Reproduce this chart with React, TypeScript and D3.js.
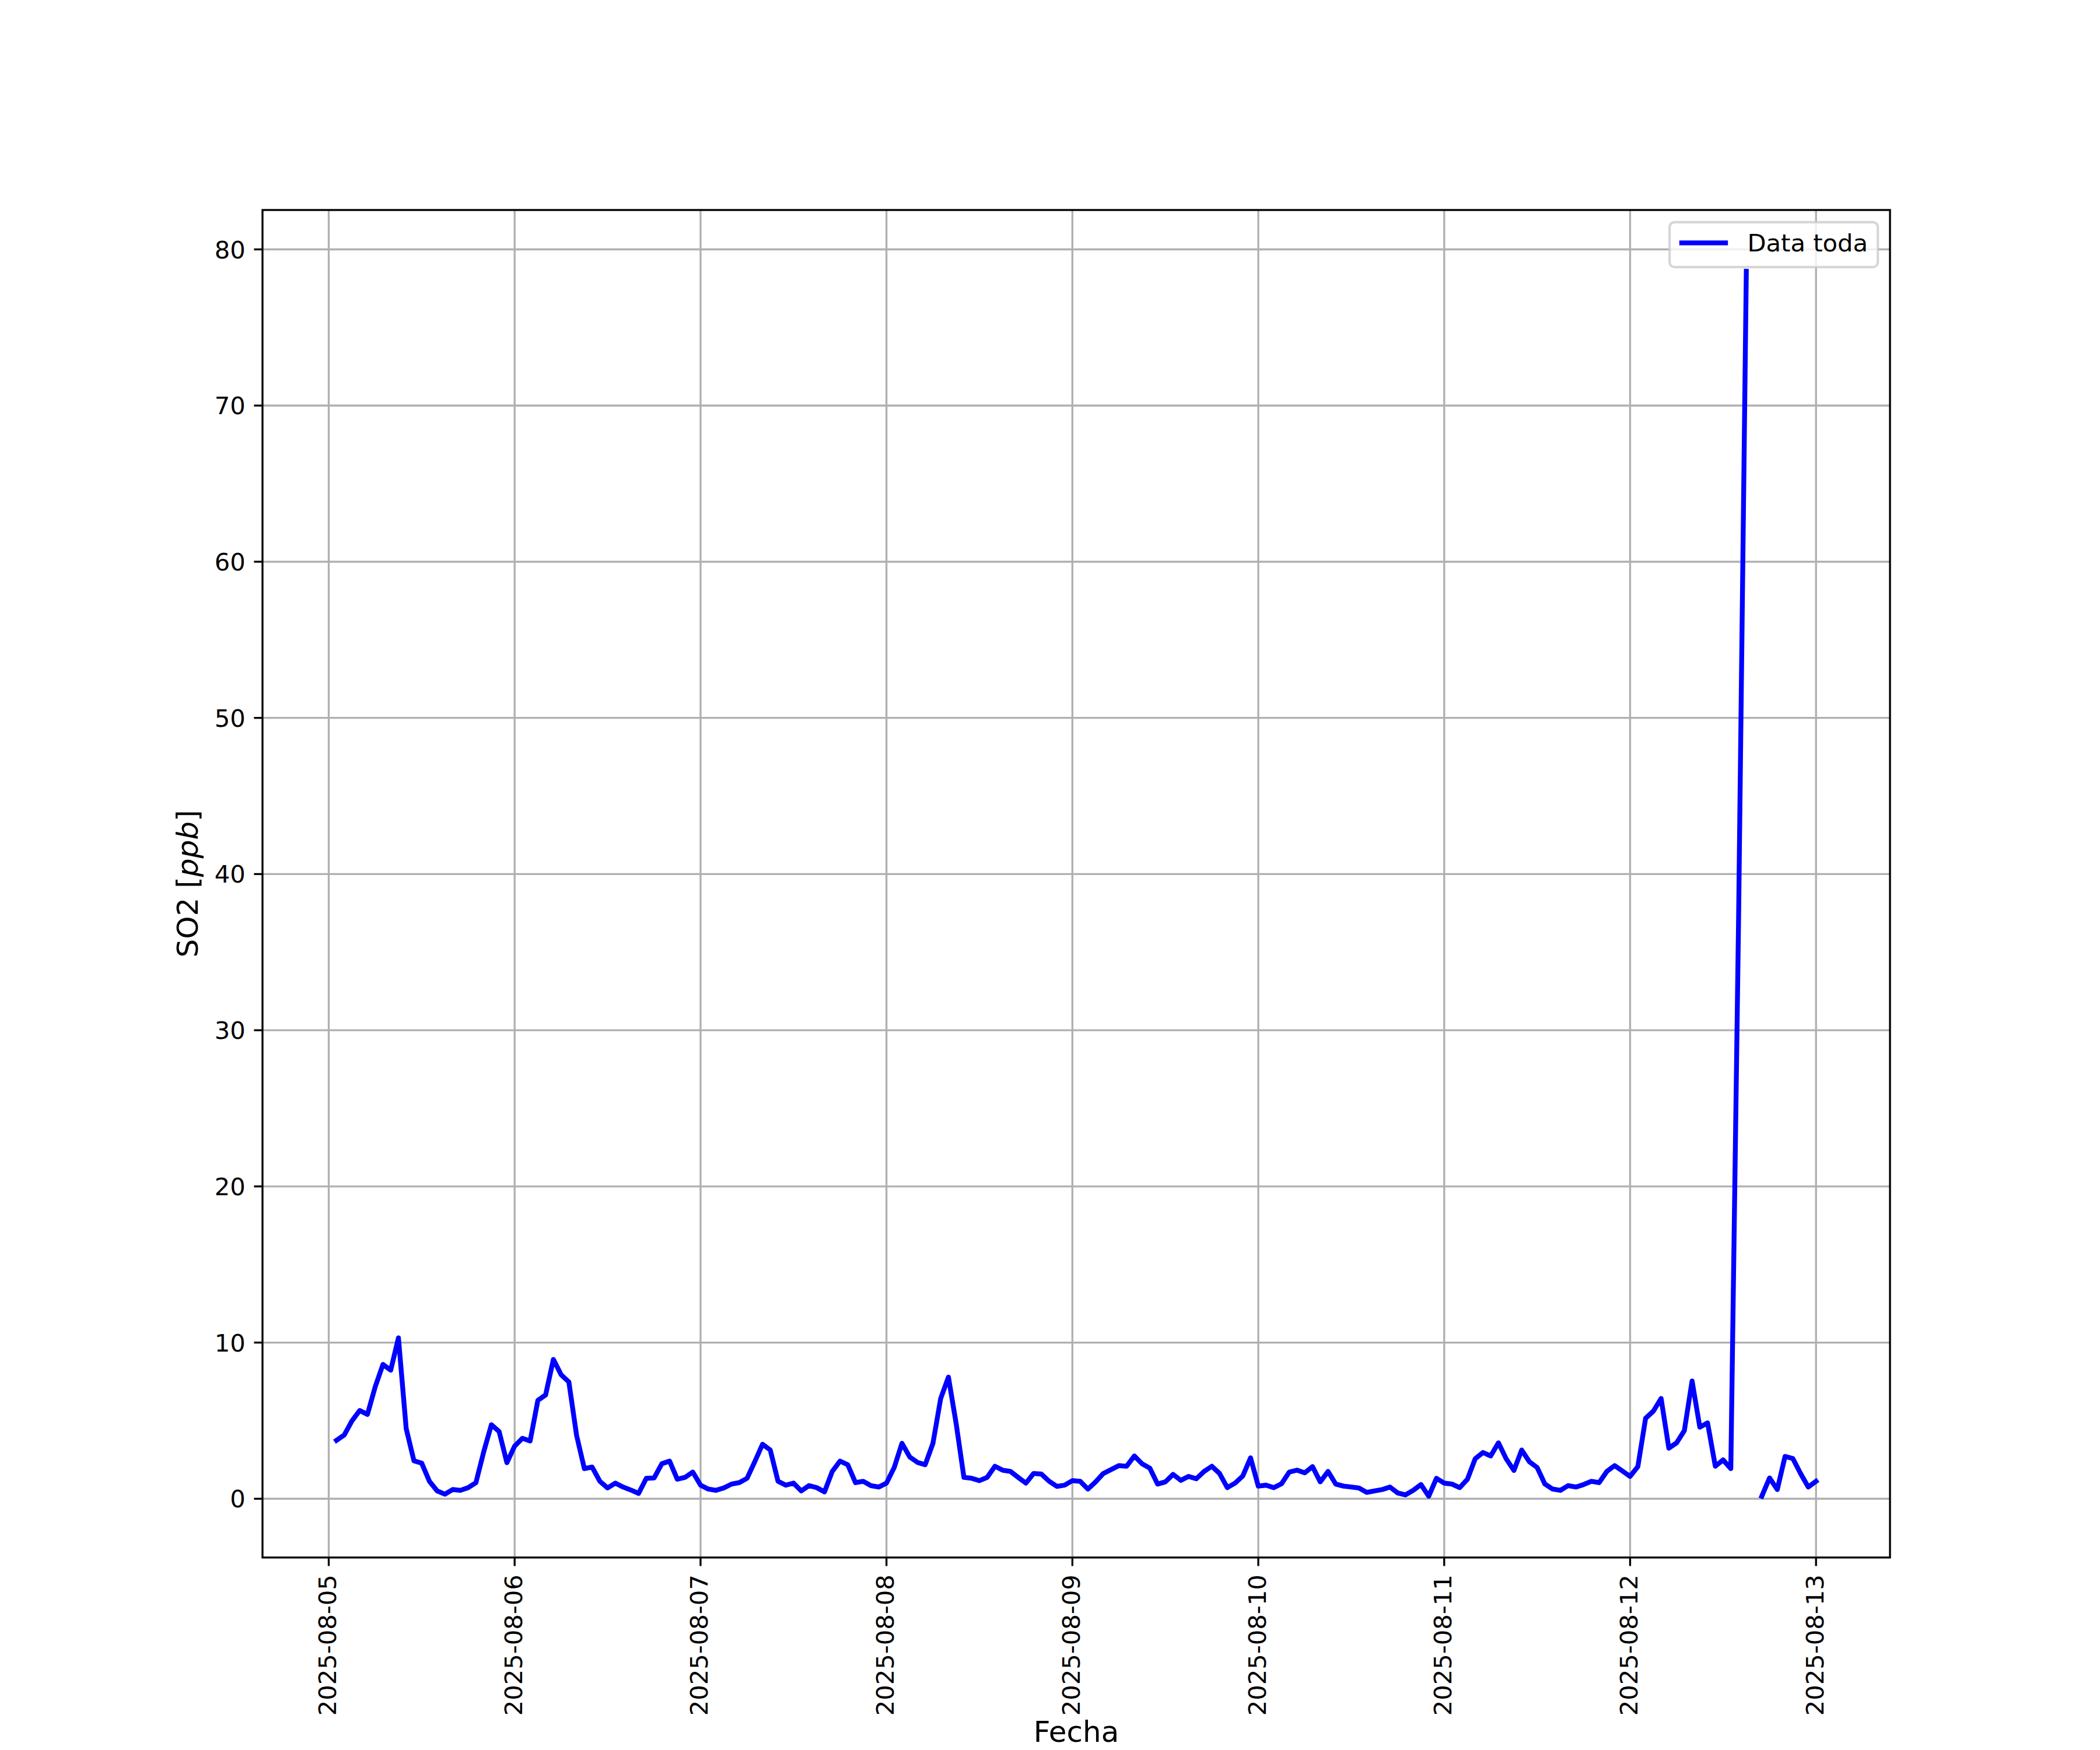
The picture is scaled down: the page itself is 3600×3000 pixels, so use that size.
import React, { useEffect } from "react";
import * as d3 from "d3";

// Hourly SO2 readings, starting 2025-08-05 01:00, ending 2025-08-13 00:00
const startTime = "2025-08-05T01:00:00Z";
const day05: number[] = [3.74, 4.08, 4.99, 5.65, 5.4, 7.17, 8.6, 8.23, 10.3, 4.49, 2.43, 2.28, 1.12, 0.5, 0.29, 0.59, 0.54, 0.71, 1.03, 2.99, 4.74, 4.3, 2.31, 3.37];
const day06: number[] = [3.87, 3.7, 6.3, 6.65, 8.92, 7.94, 7.48, 4.05, 1.93, 2.03, 1.12, 0.69, 1.0, 0.75, 0.56, 0.34, 1.31, 1.33, 2.24, 2.41, 1.25, 1.37, 1.71, 0.87];
const day07: number[] = [0.62, 0.54, 0.69, 0.94, 1.03, 1.31, 2.37, 3.49, 3.12, 1.12, 0.87, 1.0, 0.5, 0.84, 0.71, 0.44, 1.75, 2.41, 2.18, 1.03, 1.12, 0.84, 0.75, 1.0];
const day08: number[] = [2.0, 3.55, 2.68, 2.33, 2.18, 3.55, 6.42, 7.79, 4.8, 1.37, 1.31, 1.16, 1.37, 2.08, 1.83, 1.75, 1.37, 1.0, 1.62, 1.58, 1.12, 0.79, 0.87, 1.16];
const day09: number[] = [1.12, 0.62, 1.08, 1.62, 1.87, 2.12, 2.08, 2.74, 2.24, 1.96, 0.94, 1.08, 1.56, 1.18, 1.43, 1.28, 1.75, 2.08, 1.62, 0.71, 1.0, 1.46, 2.62, 0.81];
const day10: number[] = [0.87, 0.71, 0.96, 1.71, 1.83, 1.66, 2.06, 1.08, 1.75, 0.94, 0.81, 0.75, 0.69, 0.41, 0.5, 0.59, 0.75, 0.37, 0.25, 0.54, 0.91, 0.16, 1.31, 1.0];
const day11: number[] = [0.94, 0.71, 1.25, 2.56, 2.96, 2.74, 3.58, 2.56, 1.81, 3.12, 2.37, 2.0, 0.94, 0.62, 0.54, 0.84, 0.75, 0.91, 1.12, 1.03, 1.75, 2.12, 1.78, 1.43];
const day12: (number | null)[] = [2.06, 5.15, 5.61, 6.42, 3.24, 3.58, 4.36, 7.54, 4.58, 4.86, 2.08, 2.49, 1.93, 37.0, 78.6, null, 0.16, 1.33, 0.59, 2.71, 2.58, 1.62, 0.75, 1.12];

const yTicks: number[] = [0, 10, 20, 30, 40, 50, 60, 70, 80];
const seriesName = "Data toda";
const xLabel = "Fecha";

const W = 3600;
const H = 3000;
const M = { left: 450, right: 3240, top: 360, bottom: 2670 };
const FONT = "'DejaVu Sans', 'Liberation Sans', sans-serif";
const TICK_FS = 41.67;
const LABEL_FS = 50;
const PT = 300 / 72;

type Pt = { t: Date; v: number | null };

export default function App() {
  useEffect(() => {
    document.body.style.margin = "0";
  }, []);

  const values: (number | null)[] = [...day05, ...day06, ...day07, ...day08, ...day09, ...day10, ...day11, ...day12];
  const t0 = new Date(startTime).getTime();
  const data: Pt[] = values.map((v, i) => ({ t: new Date(t0 + i * 3600 * 1000), v }));

  const tMin = data[0].t.getTime();
  const tMax = data[data.length - 1].t.getTime();
  const tPad = (tMax - tMin) * 0.05;
  const x = d3.scaleUtc().domain([new Date(tMin - tPad), new Date(tMax + tPad)]).range([M.left, M.right]);

  const nums = values.filter((v): v is number => v != null);
  const vMin = d3.min(nums) as number;
  const vMax = d3.max(nums) as number;
  const vPad = (vMax - vMin) * 0.05;
  const y = d3.scaleLinear().domain([vMin - vPad, vMax + vPad]).range([M.bottom, M.top]);

  const xTicks = d3.utcDay.range(new Date("2025-08-05T00:00:00Z"), new Date("2025-08-13T00:00:01Z"));
  const fmt = d3.utcFormat("%Y-%m-%d");

  const line = d3
    .line<Pt>()
    .defined((d) => d.v != null)
    .x((d) => x(d.t))
    .y((d) => y(d.v as number));

  const tickLen = 3.5 * PT;
  const tickPad = 3.5 * PT;
  const lw = 0.8 * PT;

  // legend geometry
  const legRight = M.right - 0.5 * TICK_FS;
  const legTop = M.top + 0.5 * TICK_FS;
  const legW = 357;
  const legH = 77;
  const legLeft = legRight - legW;
  const handleX0 = legLeft + 0.4 * TICK_FS;
  const handleX1 = handleX0 + 2 * TICK_FS;
  const legMidY = legTop + legH / 2 - 3;

  return (
    <svg width={W} height={H} viewBox={`0 0 ${W} ${H}`} style={{ display: "block", background: "#fff" }}>
      <rect x={0} y={0} width={W} height={H} fill="#fff" />
      <defs>
        <clipPath id="plotclip">
          <rect x={M.left} y={M.top} width={M.right - M.left} height={M.bottom - M.top} />
        </clipPath>
      </defs>
      {/* grid */}
      <g stroke="#b0b0b0" strokeWidth={lw}>
        {xTicks.map((t, i) => (
          <line key={"gx" + i} x1={x(t)} x2={x(t)} y1={M.top} y2={M.bottom} />
        ))}
        {yTicks.map((v, i) => (
          <line key={"gy" + i} x1={M.left} x2={M.right} y1={y(v)} y2={y(v)} />
        ))}
      </g>
      {/* series */}
      <path
        d={line(data) || ""}
        fill="none"
        stroke="#0000ff"
        strokeWidth={2 * PT}
        strokeLinejoin="round"
        strokeLinecap="square"
        clipPath="url(#plotclip)"
      />
      {/* spines */}
      <rect x={M.left} y={M.top} width={M.right - M.left} height={M.bottom - M.top} fill="none" stroke="#000" strokeWidth={lw} />
      {/* x ticks */}
      <g>
        {xTicks.map((t, i) => (
          <g key={"xt" + i}>
            <line x1={x(t)} x2={x(t)} y1={M.bottom} y2={M.bottom + tickLen} stroke="#000" strokeWidth={lw} />
            <text
              transform={`translate(${x(t)},${M.bottom + tickLen + tickPad}) rotate(-90)`}
              textAnchor="end"
              dy={12.5}
              fontFamily={FONT}
              fontSize={TICK_FS}
              fill="#000"
            >
              {fmt(t)}
            </text>
          </g>
        ))}
      </g>
      {/* y ticks */}
      <g>
        {yTicks.map((v, i) => (
          <g key={"yt" + i}>
            <line x1={M.left - tickLen} x2={M.left} y1={y(v)} y2={y(v)} stroke="#000" strokeWidth={lw} />
            <text
              x={M.left - tickLen - tickPad}
              y={y(v)}
              dy={15}
              textAnchor="end"
              fontFamily={FONT}
              fontSize={TICK_FS}
              fill="#000"
            >
              {v}
            </text>
          </g>
        ))}
      </g>
      {/* axis labels */}
      <text x={(M.left + M.right) / 2} y={2986} textAnchor="middle" fontFamily={FONT} fontSize={LABEL_FS} fill="#000">
        {xLabel}
      </text>
      <text
        transform={`translate(339,${(M.top + M.bottom) / 2}) rotate(-90)`}
        textAnchor="middle"
        fontFamily={FONT}
        fontSize={LABEL_FS}
        fill="#000"
      >
        SO2 [<tspan fontStyle="italic">ppb</tspan>]
      </text>
      {/* legend */}
      <g>
        <rect
          x={legLeft}
          y={legTop}
          width={legW}
          height={legH}
          rx={0.2 * TICK_FS}
          ry={0.2 * TICK_FS}
          fill="#fff"
          fillOpacity={0.8}
          stroke="#cccccc"
          strokeOpacity={0.8}
          strokeWidth={1 * PT}
        />
        <line x1={handleX0} x2={handleX1} y1={legMidY} y2={legMidY} stroke="#0000ff" strokeWidth={2 * PT} strokeLinecap="butt" />
        <text x={handleX1 + 0.8 * TICK_FS} y={legMidY + 15} fontFamily={FONT} fontSize={TICK_FS} fill="#000">
          {seriesName}
        </text>
      </g>
    </svg>
  );
}
